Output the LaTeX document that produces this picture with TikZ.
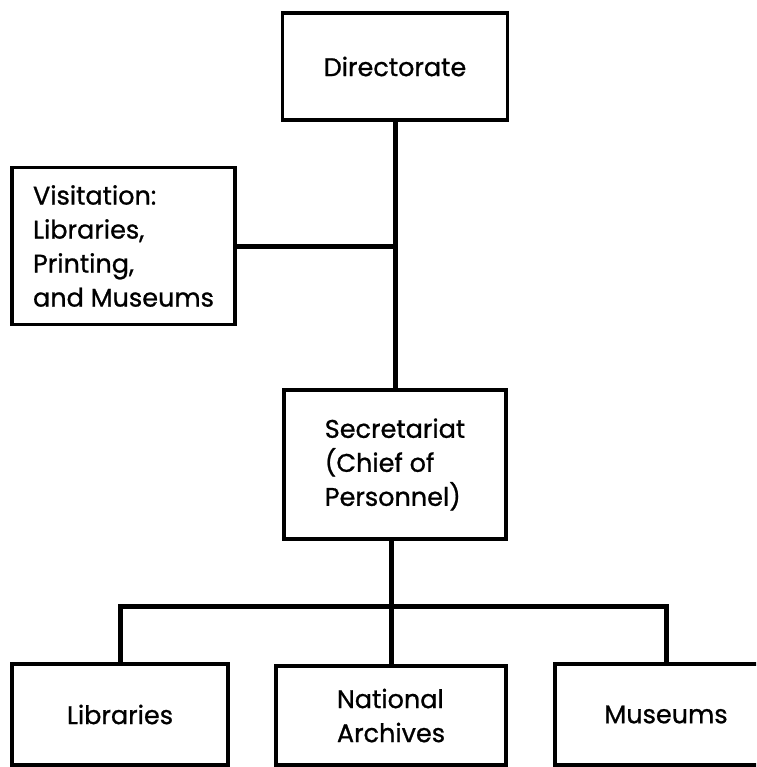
\documentclass[tikz,border=0pt]{standalone}
\usepackage{fontspec}
\newfontfamily\orgfont{Poppins}[FakeBold=0.9]
\begin{document}
\begin{tikzpicture}[x=1pt,y=-1pt,
  box/.style={draw, line width=3.5pt, inner sep=0pt, align=left,
    font=\orgfont\fontsize{25.5}{34}\selectfont},
  conn/.style={line width=5pt, line cap=rect}]
\useasboundingbox (0,0) rectangle (756,767);
\clip (0,0) rectangle (756,767);

% units of the organisation
\node[box, minimum width=225pt, minimum height=107pt] (dir) at (395,66.5) {Directorate};
\node[box, minimum width=223pt, minimum height=157pt] (vis) at (123.5,246)
  {Visitation:\\Libraries,\\Printing,\\and Museums};
\node[box, minimum width=222pt, minimum height=149pt] (sec) at (395,464.5)
  {Secretariat\\(Chief of\\Personnel)};
\node[box, minimum width=216pt, minimum height=101pt] (lib) at (120,714.5) {Libraries};
\node[box, minimum width=230pt, minimum height=99pt] (nat) at (391,715.5) {National\\Archives};
\node[box, minimum width=222pt, minimum height=101pt] (mus) at (666,714.5) {Museums};

% lines of authority
\coordinate (bus) at (391,606);
\draw[conn] (dir.south) -- (sec.north);
\draw[conn] (vis.east) -- (vis.east -| dir.south);
\draw[conn] (sec.south -| bus) -- (nat.north);
\draw[conn] (lib.north) |- (bus) -| (mus.north);
\end{tikzpicture}
\end{document}
